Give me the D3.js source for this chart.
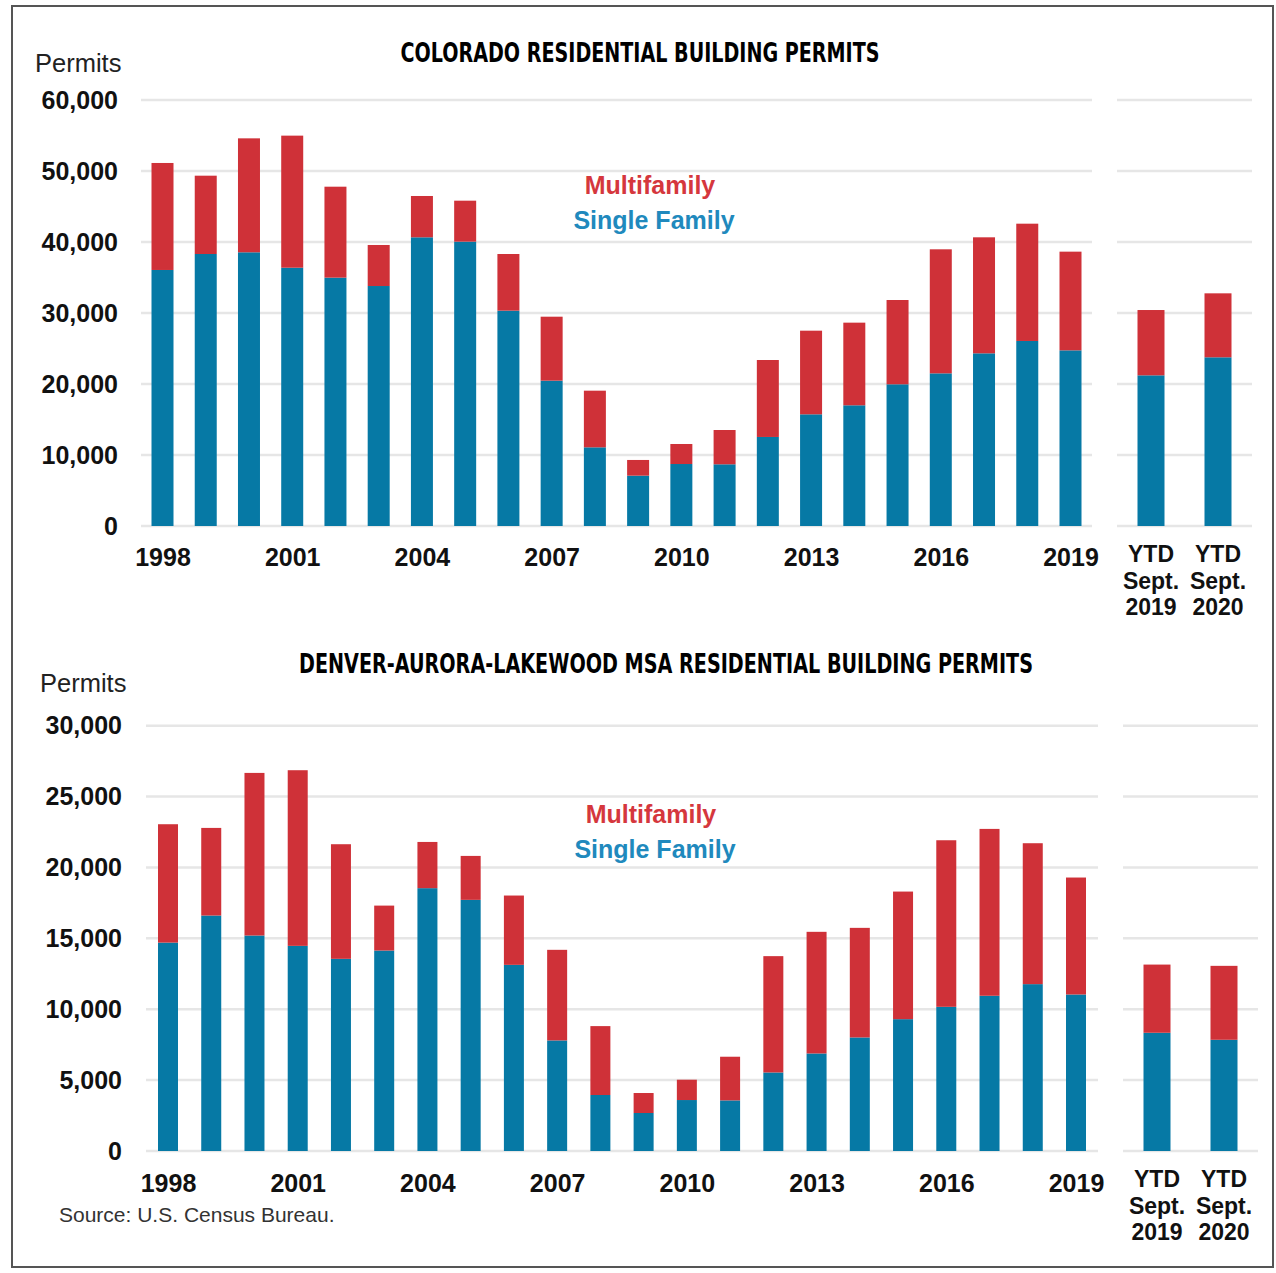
<!DOCTYPE html>
<html>
<head>
<meta charset="utf-8">
<script src="https://cdn.jsdelivr.net/npm/d3@7"></script>
<style>
  body { margin: 0; background: #fff; }
  text { font-family: "Liberation Sans", Arial, sans-serif; }
  .tick text { font-weight: bold; fill: #111; }
  .title { font-family: "Liberation Sans Narrow", "DejaVu Sans Condensed", sans-serif; font-weight: bold; font-stretch: condensed; }
</style>
</head>
<body>
<svg id="chart"></svg>
<script>
let W = 1276, H = 1273;

// years shown in both charts
let years = d3.range(1998, 2020);
let yearTicks = [1998, 2001, 2004, 2007, 2010, 2013, 2016, 2019];
let ytdKeys = ["ytd2019", "ytd2020"];
let ytdLabels = [["YTD", "Sept.", "2019"], ["YTD", "Sept.", "2020"]];

// Colorado, permits
let coSingle = [36060, 38310, 38550, 36380, 34980, 33800, 40660, 40050, 30330, 20470, 11080,
    7090, 8730, 8690, 12540, 15730, 17000, 19960, 21500, 24320, 26060, 24740];
let coMulti = [15070, 11030, 16050, 18600, 12810, 5780, 5820, 5770, 7980, 9010, 7980,
    2210, 2820, 4830, 10840, 11780, 11640, 11870, 17470, 16340, 16520, 13900];
let coYtdSingle = [21220, 23760];
let coYtdMulti = [9200, 9010];
let coTicks = [0, 10000, 20000, 30000, 40000, 50000, 60000];

// Denver-Aurora-Lakewood MSA
let denSingle = [14700, 16610, 15200, 14470, 13555, 14140, 18540, 17715, 13130, 7800, 3950,
    2680, 3595, 3570, 5540, 6880, 8010, 9300, 10170, 10950, 11770, 11040];
let denMulti = [8350, 6180, 11470, 12390, 8085, 3170, 3260, 3100, 4890, 6390, 4860,
    1410, 1435, 3080, 8205, 8580, 7730, 9000, 11750, 11770, 9940, 8250];
let denYtdSingle = [8340, 7845];
let denYtdMulti = [4810, 5215];
let denTicks = [0, 5000, 10000, 15000, 20000, 25000, 30000];

let blue = "#0679a5", red = "#cf3138";

let svg = d3.select("#chart")
    .attr("width", W)
    .attr("height", H);

// frame round everything
svg.append("rect")
    .attr("x", 12).attr("y", 6)
    .attr("width", 1261).attr("height", 1261)
    .attr("fill", "none")
    .attr("stroke", "#555")
    .attr("stroke-width", 2);

function drawPanel(p) {
    let g = svg.append("g");

    let y = d3.scaleLinear().domain(p.yDomain).range([p.y0, p.y1]);
    let x = d3.scalePoint().domain(years).range(p.xRange);
    let xr = d3.scalePoint().domain(ytdKeys).range(p.ytdRange);

    //gridlines, main block and ytd block
    [p.gridMain, p.gridYtd].forEach(function (gx) {
        g.selectAll(null)
            .data(p.ticks)
            .enter()
            .append("line")
            .attr("x1", gx[0]).attr("x2", gx[1])
            .attr("y1", d => y(d)).attr("y2", d => y(d))
            .attr("stroke", "#e6e6e6")
            .attr("stroke-width", 2.5);
    });

    let yAxis = d3.axisLeft(y)
        .tickValues(p.ticks)
        .tickSize(0)
        .tickPadding(0)
        .tickFormat(d3.format(",d"));

    g.append("g")
        .attr("transform", "translate(" + p.yLabelX + ",0)")
        .call(yAxis)
        .call(a => a.select(".domain").remove())
        .selectAll("text")
        .style("font-size", "25px");

    let rows = years.map((yr, i) => ({ key: yr, single: p.single[i], multi: p.multi[i] }));
    let ytdRows = ytdKeys.map((k, i) => ({ key: k, single: p.ytdSingle[i], multi: p.ytdMulti[i] }));

    function bars(data, xs, bw) {
        g.selectAll(null)
            .data(data)
            .enter()
            .append("rect")
            .attr("x", d => xs(d.key) - bw / 2)
            .attr("width", bw)
            .attr("y", d => y(d.single))
            .attr("height", d => y(0) - y(d.single))
            .attr("fill", blue);
        g.selectAll(null)
            .data(data)
            .enter()
            .append("rect")
            .attr("x", d => xs(d.key) - bw / 2)
            .attr("width", bw)
            .attr("y", d => y(d.single + d.multi))
            .attr("height", d => y(d.single) - y(d.single + d.multi))
            .attr("fill", red);
    }
    bars(rows, x, p.barW);
    bars(ytdRows, xr, 27);

    let xAxis = d3.axisBottom(x)
        .tickValues(yearTicks)
        .tickSize(0)
        .tickPadding(0);

    g.append("g")
        .attr("transform", "translate(0," + p.xLabelY + ")")
        .call(xAxis)
        .call(a => a.select(".domain").remove())
        .selectAll("text")
        .attr("dy", 0)
        .style("font-size", "25px");

    // three line labels under the ytd bars
    ytdKeys.forEach(function (k, i) {
        g.append("text")
            .attr("x", xr(k))
            .attr("text-anchor", "middle")
            .style("font-size", "23px")
            .style("font-weight", "bold")
            .attr("fill", "#111")
            .selectAll("tspan")
            .data(ytdLabels[i])
            .enter()
            .append("tspan")
            .attr("x", xr(k))
            .attr("y", (d, j) => p.ytdLabelY + j * 26.5)
            .text(d => d);
    });

    g.append("text")
        .attr("class", "title")
        .attr("x", p.titleX)
        .attr("y", p.titleY)
        .attr("text-anchor", "middle")
        .attr("textLength", p.titleW)
        .attr("lengthAdjust", "spacingAndGlyphs")
        .style("font-size", "26px")
        .attr("fill", "#000")
        .text(p.title);

    g.append("text")
        .attr("x", p.permitsX)
        .attr("y", p.permitsY)
        .style("font-size", "25.5px")
        .attr("fill", "#222")
        .text("Permits");

    g.append("text")
        .attr("x", p.legendX)
        .attr("y", p.legendY)
        .attr("text-anchor", "middle")
        .style("font-size", "25px")
        .style("font-weight", "bold")
        .attr("fill", "#d5373d")
        .text("Multifamily");

    g.append("text")
        .attr("x", p.legendX + 4)
        .attr("y", p.legendY + 35)
        .attr("text-anchor", "middle")
        .style("font-size", "25px")
        .style("font-weight", "bold")
        .attr("fill", "#2089bd")
        .text("Single Family");
}

drawPanel({
    title: "COLORADO RESIDENTIAL BUILDING PERMITS",
    titleX: 640, titleY: 62, titleW: 479,
    permitsX: 35, permitsY: 72,
    legendX: 650, legendY: 194,
    yDomain: [0, 60000], y0: 526, y1: 100, ticks: coTicks,
    yLabelX: 118,
    xRange: [162.5, 1070.5], barW: 22,
    ytdRange: [1151, 1218],
    gridMain: [141, 1092], gridYtd: [1117, 1252],
    xLabelY: 566, ytdLabelY: 562,
    single: coSingle, multi: coMulti,
    ytdSingle: coYtdSingle, ytdMulti: coYtdMulti
});

drawPanel({
    title: "DENVER-AURORA-LAKEWOOD MSA RESIDENTIAL BUILDING PERMITS",
    titleX: 666, titleY: 673, titleW: 734,
    permitsX: 40, permitsY: 692,
    legendX: 651, legendY: 823,
    yDomain: [0, 30000], y0: 1151, y1: 725.7, ticks: denTicks,
    yLabelX: 122,
    xRange: [168, 1076], barW: 20,
    ytdRange: [1157, 1224],
    gridMain: [146, 1098], gridYtd: [1123, 1258],
    xLabelY: 1192, ytdLabelY: 1187,
    single: denSingle, multi: denMulti,
    ytdSingle: denYtdSingle, ytdMulti: denYtdMulti
});

svg.append("text")
    .attr("x", 59)
    .attr("y", 1222)
    .style("font-size", "21px")
    .attr("fill", "#333")
    .text("Source: U.S. Census Bureau.");
</script>
</body>
</html>
